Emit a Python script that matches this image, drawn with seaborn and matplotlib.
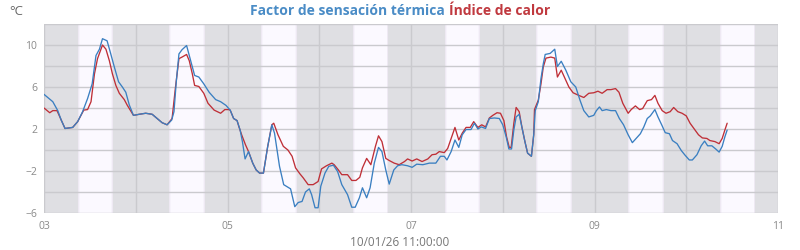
import numpy as np
import pandas as pd
import matplotlib
matplotlib.use("Agg")
import matplotlib.pyplot as plt
import matplotlib.dates as mdates
import seaborn as sns

# ---------------- data (hours since 2026-01-03 00:00) ----------------
start_date = "2026-01-03"
end_date = "2026-01-11"
sunrise_h = 8.8
sunset_h = 18.1

wc_hours = [0, 2.3, 3.6, 4.5, 5.5, 7.5, 8.8, 10.1, 11.4, 12.6, 13.6, 14.5, 15.3, 16.5, 17.2,
            18.4, 19.5, 20.5, 21.4, 22.3, 23.4, 24.9, 26.6, 28.3, 29.6, 30.9, 32.2, 33.4, 34.0,
            34.6, 35.3, 36.1, 37.3, 38.0, 38.8, 39.4, 40.5, 41.8, 43.2, 44.9, 46.2, 47.6, 48.7,
            49.6, 50.5, 51.3, 51.9, 52.6, 53.5, 54.6, 55.5, 56.4, 57.4, 58.5, 59.6, 60.3, 61.6,
            62.7, 64.5, 65.6, 66.5, 67.5, 68.4, 69.4, 70.0, 70.9, 71.7, 72.4, 73.5, 74.5, 75.7,
            76.8, 77.9, 79.4, 80.5, 81.4, 82.5, 83.3, 84.4, 85.3, 86.4, 87.5, 88.4, 89.4, 90.3,
            91.5, 92.5, 93.6, 95.1, 96.3, 97.5, 99.1, 100.8, 102.5, 103.7, 104.7, 105.4, 106.5,
            107.5, 108.5, 109.4, 110.4, 111.7, 112.6, 113.5, 114.4, 115.5, 116.5, 117.8, 119.1,
            120.0, 120.9, 121.6, 122.3, 122.9, 123.5, 124.3, 125.0, 125.8, 126.5, 127.5, 128.1,
            128.5, 129.3, 130.0, 130.6, 131.1, 132.4, 133.6, 134.3, 135.3, 136.5, 137.8, 139.1,
            140.2, 141.2, 142.5, 143.8, 144.5, 145.3, 146.0, 147.1, 148.3, 149.5, 150.5, 151.6,
            152.8, 153.9, 154.9, 156.0, 156.9, 157.8, 158.6, 159.8, 160.6, 161.7, 162.5, 163.6,
            164.4, 165.6, 166.7, 167.7, 168.8, 169.6, 170.8, 171.9, 172.8, 173.6, 174.7, 175.7,
            176.6, 177.4, 178.1, 178.7]
wc_values = [5.3, 4.6, 3.75, 2.85, 2.05, 2.15, 2.7, 3.65, 4.9, 6.3, 9.0, 9.6, 10.6, 10.4, 9.5,
             7.9, 6.5, 6.0, 5.5, 4.3, 3.3, 3.4, 3.5, 3.4, 3.0, 2.6, 2.4, 2.85, 3.65,
             6.5, 9.15, 9.55, 9.95, 9.0, 7.9, 7.1, 6.95, 6.3, 5.5, 4.8, 4.6, 4.25, 3.8,
             3.0, 2.8, 1.9, 0.8, -0.85, -0.15, -1.25, -1.9, -2.2, -2.2, 0.3, 2.4, 1.6, -1.55,
             -3.3, -3.7, -5.4, -5.0, -4.9, -4.0, -3.7, -4.25, -5.5, -5.5, -3.45, -2.2, -1.55, -1.45,
             -2.05, -3.3, -4.25, -5.45, -5.45, -4.55, -3.6, -4.55, -3.6, -1.25, 0.25, -0.15, -1.9, -3.25,
             -1.9, -1.5, -1.4, -1.5, -1.65, -1.35, -1.4, -1.25, -1.25, -0.6, -0.6, -0.95, -0.15,
             0.95, 0.25, 1.45, 1.95, 1.95, 2.55, 2.0, 2.2, 2.05, 3.0, 3.05, 3.0,
             2.4, 1.25, 0.1, 0.1, 1.9, 3.15, 3.4, 2.2, 0.8, -0.3, -0.6, 1.45,
             3.75, 4.6, 6.8, 8.2, 9.1, 9.2, 9.6, 7.95, 8.45, 7.6, 6.5, 6.0,
             4.75, 3.75, 3.15, 3.3, 3.75, 4.1, 3.75, 3.85, 3.75, 3.75, 3.0, 2.4,
             1.45, 0.7, 1.1, 1.55, 2.2, 3.0, 3.25, 3.85, 3.15, 2.3, 1.65, 1.55,
             0.9, 0.6, -0.05, -0.5, -0.95, -0.95, -0.45, 0.4, 0.85, 0.4, 0.4, 0.1,
             -0.2, 0.35, 1.25, 1.9]

hi_hours = [0, 1.5, 2.3, 3.4, 4.5, 5.5, 7.5, 8.8, 10.4, 11.4, 12.3, 13.2, 14.0, 15.3, 16.2,
            17.1, 17.9, 18.8, 19.7, 21.0, 21.8, 23.0, 23.4, 24.9, 26.6, 28.3, 29.6, 30.9, 32.2,
            33.5, 34.4, 35.3, 36.1, 37.3, 38.0, 38.8, 39.4, 40.5, 41.8, 42.9, 44.5, 46.2, 47.3,
            48.3, 48.7, 49.6, 50.5, 51.0, 51.7, 52.7, 53.5, 54.6, 55.5, 56.4, 57.4, 58.5, 59.6,
            60.1, 61.2, 62.6, 63.8, 64.9, 65.8, 66.9, 67.8, 69.1, 70.4, 71.7, 72.6, 73.9, 75.3,
            75.9, 77.0, 77.9, 79.4, 80.5, 81.6, 82.6, 83.3, 84.4, 85.5, 86.7, 87.5, 88.4, 89.4,
            90.3, 91.6, 92.9, 94.3, 95.1, 96.3, 97.5, 98.9, 100.4, 101.5, 102.5, 103.4, 104.7,
            105.6, 106.5, 107.5, 108.5, 109.4, 110.4, 111.5, 112.4, 113.5, 114.5, 115.5, 116.5,
            117.4, 118.5, 119.4, 120.3, 121.0, 121.7, 122.2, 122.9, 123.5, 124.3, 125.0, 125.8,
            126.5, 127.5, 128.1, 128.3, 129.3, 130.0, 130.6, 131.3, 132.6, 133.6, 134.3, 135.3,
            136.5, 137.3, 138.4, 139.9, 141.2, 142.5, 143.8, 144.9, 146.0, 147.3, 148.3, 149.5,
            150.4, 151.4, 152.8, 153.6, 154.7, 155.8, 156.6, 157.8, 158.9, 159.8, 160.6, 161.7,
            162.7, 163.8, 164.7, 165.8, 166.9, 168.0, 169.0, 170.2, 171.2, 172.2, 173.4, 174.2,
            175.5, 176.6, 177.4, 178.1, 178.7]
hi_values = [4.0, 3.55, 3.75, 3.75, 2.85, 2.05, 2.15, 2.7, 3.8, 3.85, 4.6, 7.25, 8.7, 10.0, 9.6,
             8.5, 7.25, 6.15, 5.4, 4.8, 4.25, 3.55, 3.3, 3.4, 3.5, 3.4, 3.0, 2.6, 2.4,
             3.0, 6.0, 8.7, 8.85, 9.1, 8.5, 7.25, 6.15, 6.05, 5.4, 4.45, 3.8, 3.5, 3.85,
             3.85, 3.8, 3.0, 2.8, 2.2, 1.45, 0.5, -0.15, -1.25, -1.9, -2.2, -2.2, 0.3, 2.4,
             2.55, 1.45, 0.35, 0.0, -0.6, -1.7, -2.25, -2.65, -3.3, -3.3, -3.0, -1.8, -1.5, -1.25,
             -1.4, -1.9, -2.35, -2.35, -2.9, -2.9, -2.6, -1.7, -0.8, -1.4, 0.35, 1.35, 0.8, -0.8,
             -1.0, -1.25, -1.4, -1.1, -0.85, -1.05, -0.85, -1.1, -0.85, -0.45, -0.4, -0.15, -0.25,
             0.15, 1.1, 2.15, 0.95, 1.6, 2.15, 2.15, 2.7, 2.15, 2.4, 2.2, 3.05,
             3.3, 3.55, 3.5, 2.8, 1.25, 0.25, 0.25, 2.55, 4.05, 3.65, 2.2, 0.8,
             -0.3, -0.6, 1.45, 3.85, 4.75, 6.3, 7.9, 8.75, 8.85, 8.75, 6.95, 7.6,
             6.65, 6.0, 5.45, 5.2, 5.0, 5.4, 5.45, 5.6, 5.4, 5.75, 5.75, 5.85,
             5.5, 4.45, 3.5, 3.85, 4.2, 3.85, 3.95, 4.7, 4.8, 5.2, 4.45, 3.75,
             3.5, 3.65, 4.05, 3.65, 3.5, 3.25, 2.55, 1.95, 1.45, 1.15, 1.1, 0.9,
             0.8, 0.6, 1.1, 1.9, 2.55]

title_wc = "Factor de sensación térmica"
title_hi = "Índice de calor"
unit_label = "°C"
time_label = "10/01/26 11:00:00"

# ---------------- styling ----------------
BLUE = "#3a7fc1"
RED = "#bf2f37"
BLUE_T = "#4a8cc6"
RED_T = "#c0393f"
NIGHT = "#dfdfe3"
DAY = "#fbf9ff"
EDGE1 = "#eee9f3"
EDGE2 = "#f6f3fb"
GRID = "#cacace"
TXT = "#8a8a8a"

sns.set_style("white")
plt.rcParams["font.family"] = ["Open Sans", "DejaVu Sans"]

base = pd.Timestamp(start_date)
df_wc = pd.DataFrame({"t": base + pd.to_timedelta(wc_hours, unit="h"), "v": wc_values})
df_hi = pd.DataFrame({"t": base + pd.to_timedelta(hi_hours, unit="h"), "v": hi_values})

fig = plt.figure(figsize=(8, 2.5), dpi=100)
ax = fig.add_axes([0.055, 0.148, 0.9175, 0.756])
ax.set_facecolor(NIGHT)

days = pd.date_range(start_date, end_date, freq="D")
for d in days[:-1]:
    sr = d + pd.Timedelta(hours=sunrise_h)
    ss = d + pd.Timedelta(hours=sunset_h)
    ax.axvspan(sr, ss, color=DAY, lw=0, zorder=0)
    e = pd.Timedelta(hours=0.25)
    ax.axvspan(sr, sr + e, color=EDGE1, lw=0, zorder=0)
    ax.axvspan(sr + e, sr + 2 * e, color=EDGE2, lw=0, zorder=0)
    ax.axvspan(ss - e, ss, color=EDGE1, lw=0, zorder=0)
    ax.axvspan(ss - 2 * e, ss - e, color=EDGE2, lw=0, zorder=0)

sns.lineplot(data=df_hi, x="t", y="v", ax=ax, color=RED, lw=0.95, estimator=None, zorder=3)
sns.lineplot(data=df_wc, x="t", y="v", ax=ax, color=BLUE, lw=0.95, estimator=None, zorder=4)

ax.set_xlim(days[0], days[-1])
ax.set_ylim(-6, 12)

ax.set_yticks([-6, -2, 2, 6, 10])
ax.set_yticks([-4, 0, 4, 8, 12], minor=True)
ax.xaxis.set_major_locator(mdates.DayLocator(interval=2))
ax.xaxis.set_minor_locator(mdates.DayLocator())
ax.xaxis.set_major_formatter(mdates.DateFormatter("%d"))

ax.grid(True, which="both", color=GRID, lw=1.0, zorder=1)
ax.set_axisbelow(True)
for s in ax.spines.values():
    s.set_visible(False)
ax.tick_params(which="both", length=0, colors=TXT, labelsize=7.5)
ax.tick_params(axis="x", pad=6)
ax.tick_params(axis="y", pad=5)
ax.set_xlabel("")
ax.set_ylabel("")

fig.text(0.012, 0.955, unit_label, color="#666666", fontsize=9.5, ha="left", va="center")

t1 = fig.text(0.5, 0.955, title_wc + " ", color=BLUE_T, fontsize=10, fontweight="bold",
              ha="right", va="center")
fig.canvas.draw()
r = fig.canvas.get_renderer()
w1 = t1.get_window_extent(r).width
t2 = fig.text(0.5, 0.955, title_hi, color=RED_T, fontsize=10, fontweight="bold",
              ha="left", va="center")
w2 = t2.get_window_extent(r).width
shift = (w1 - w2) / 2 / fig.bbox.width
t1.set_x(0.5 + shift)
t2.set_x(0.5 + shift)

fig.text(0.5, 0.03, time_label, color="#777777", fontsize=8.5, ha="center", va="center")

fig.savefig("out.png", dpi=100)
